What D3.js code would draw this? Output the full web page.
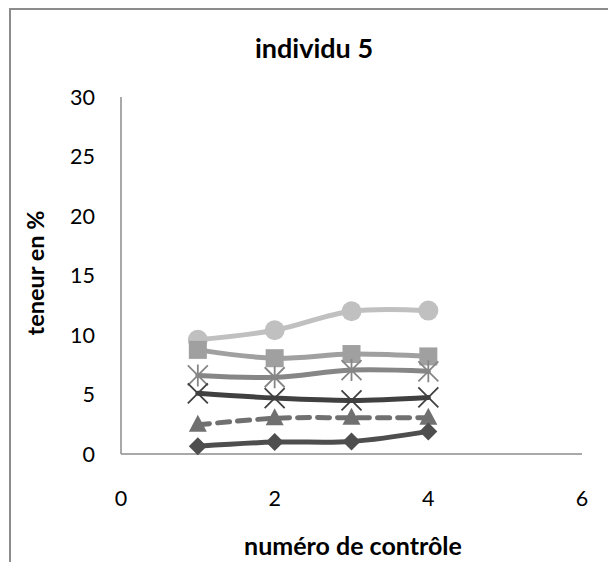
<!DOCTYPE html>
<html>
<head>
<meta charset="utf-8">
<script src="https://cdn.jsdelivr.net/npm/d3@7"></script>
<style>
  body { margin: 0; background: #fff; }
  text { font-family: Lato, "Open Sans", sans-serif; fill: #000; }
</style>
</head>
<body>
<script>
var controles = [1, 2, 3, 4];
var serieRond = [9.6, 10.4, 12.0, 12.05];
var serieCarre = [8.75, 8.05, 8.4, 8.2];
var serieEtoile = [6.6, 6.45, 7.05, 6.95];
var serieCroix = [5.1, 4.7, 4.5, 4.75];
var serieTriangle = [2.45, 3.0, 3.05, 3.05];
var serieLosange = [0.65, 1.0, 1.05, 1.9];
var xTicks = [0, 2, 4, 6];
var yTicks = [0, 5, 10, 15, 20, 25, 30];

var width = 608, height = 562;
var svg = d3.select("body").append("svg")
    .attr("width", width)
    .attr("height", height);

svg.append("rect").attr("width", width).attr("height", height).attr("fill", "#fff");

// cadre du graphique
svg.append("path")
    .attr("d", "M10,562 V9 H608")
    .attr("fill", "none")
    .attr("stroke", "#8c8c8c")
    .attr("stroke-width", 2);

var x = d3.scaleLinear().domain([0, 6]).range([121, 582]);
var y = d3.scaleLinear().domain([0, 30]).range([454, 97]);

// axes
svg.append("line")
    .attr("x1", x(0)).attr("x2", x(0))
    .attr("y1", y(30)).attr("y2", y(0))
    .attr("stroke", "#8c8c8c").attr("stroke-width", 1.5);
svg.append("line")
    .attr("x1", x(0)).attr("x2", x(6))
    .attr("y1", y(0)).attr("y2", y(0))
    .attr("stroke", "#8c8c8c").attr("stroke-width", 1.5);

svg.selectAll("text.ytick")
    .data(yTicks)
    .enter().append("text")
    .attr("class", "ytick")
    .attr("x", 95)
    .attr("y", function (d) { return y(d); })
    .attr("dy", "0.36em")
    .attr("text-anchor", "end")
    .attr("font-size", 21.5)
    .text(function (d) { return d; });

svg.selectAll("text.xtick")
    .data(xTicks)
    .enter().append("text")
    .attr("class", "xtick")
    .attr("x", function (d) { return x(d); })
    .attr("y", 498)
    .attr("dy", "0.36em")
    .attr("text-anchor", "middle")
    .attr("font-size", 21.5)
    .text(function (d) { return d; });

svg.append("text")
    .attr("x", 314).attr("y", 58)
    .attr("text-anchor", "middle")
    .attr("font-size", 27)
    .attr("font-weight", "bold")
    .text("individu 5");

svg.append("text")
    .attr("transform", "translate(36,273) rotate(-90)")
    .attr("dy", "0.36em")
    .attr("text-anchor", "middle")
    .attr("font-size", 23.5)
    .attr("font-weight", "bold")
    .text("teneur en %");

svg.append("text")
    .attr("x", 353).attr("y", 555)
    .attr("text-anchor", "middle")
    .attr("font-size", 25)
    .attr("font-weight", "bold")
    .text("numéro de contrôle");

var series = [
  { values: serieRond, color: "#c0c0c0", marker: "circle", dash: null },
  { values: serieCarre, color: "#a0a0a0", marker: "square", dash: null },
  { values: serieEtoile, color: "#868686", marker: "star", dash: null },
  { values: serieCroix, color: "#404040", marker: "cross", dash: null },
  { values: serieTriangle, color: "#707070", marker: "triangle", dash: "12,8" },
  { values: serieLosange, color: "#4e4e4e", marker: "diamond", dash: null }
];

var line = d3.line()
    .x(function (d, i) { return x(controles[i]); })
    .y(function (d) { return y(d); })
    .curve(d3.curveCatmullRom.alpha(0.5));

series.forEach(function (s) {
  var g = svg.append("g");
  g.append("path")
      .attr("d", line(s.values))
      .attr("fill", "none")
      .attr("stroke", s.color)
      .attr("stroke-width", 5)
      .attr("stroke-linecap", "round")
      .attr("stroke-dasharray", s.dash);

  var pts = g.selectAll("g.pt")
      .data(s.values)
      .enter().append("g")
      .attr("transform", function (d, i) { return "translate(" + x(controles[i]) + "," + y(d) + ")"; });

  if (s.marker === "circle") {
    pts.append("circle").attr("r", 10).attr("fill", s.color);
  } else if (s.marker === "square") {
    pts.append("rect").attr("x", -9).attr("y", -9).attr("width", 18).attr("height", 18).attr("fill", s.color);
  } else if (s.marker === "diamond") {
    pts.append("path").attr("d", "M0,-9 L9,0 L0,9 L-9,0 Z").attr("fill", s.color);
  } else if (s.marker === "triangle") {
    pts.append("path").attr("d", "M0,-10 L9,7 L-9,7 Z").attr("fill", s.color);
  } else if (s.marker === "cross") {
    pts.append("path").attr("d", "M-10,-10 L10,10 M10,-10 L-10,10")
        .attr("stroke", s.color).attr("stroke-width", 1.8);
  } else if (s.marker === "star") {
    pts.append("path").attr("d", "M-10,-10 L10,10 M10,-10 L-10,10 M0,-11 V11")
        .attr("stroke", s.color).attr("stroke-width", 1.8);
  }
});
</script>
</body>
</html>
